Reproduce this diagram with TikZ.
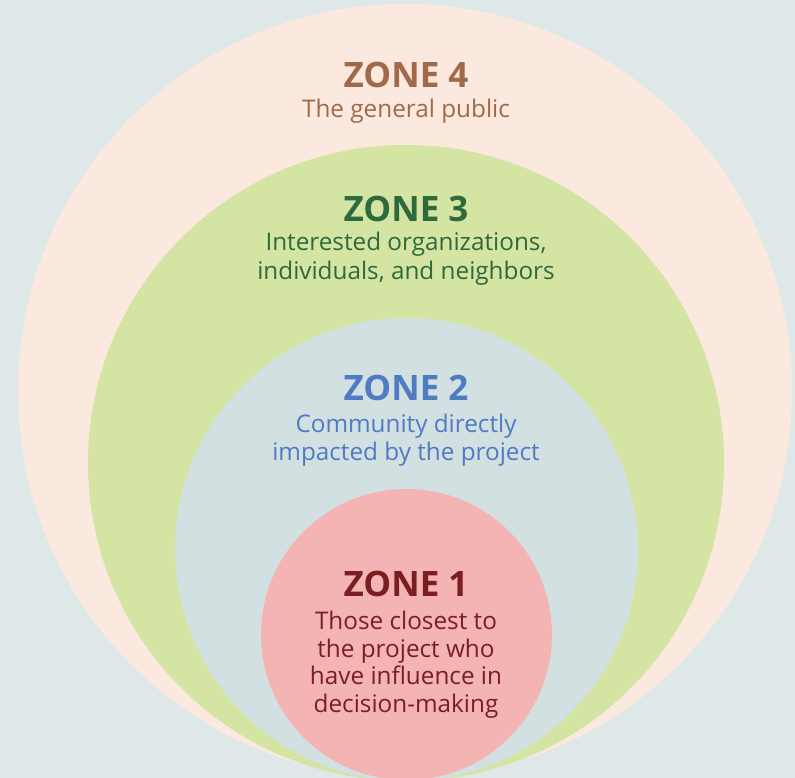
\documentclass[tikz,border=0pt]{standalone}
\usepackage{fontspec}
\setmainfont{Open Sans}
\definecolor{bgc}{HTML}{DFE8E9}
\definecolor{z4fill}{HTML}{FBE8DE}
\definecolor{z3fill}{HTML}{D3E4A3}
\definecolor{z2fill}{HTML}{D2E0E2}
\definecolor{z1fill}{HTML}{F4B4B4}
\definecolor{z4text}{HTML}{A06A48}
\definecolor{z3text}{HTML}{2F6A3C}
\definecolor{z2text}{HTML}{4E7BC1}
\definecolor{z1text}{HTML}{7A1F1F}
\tikzset{
  ztitle/.style={anchor=base, inner sep=0pt, font=\fontsize{35}{35}\selectfont\bfseries},
  zbody/.style={anchor=base, inner sep=0pt, font=\fontsize{24.3}{24.3}\selectfont},
}
\begin{document}
\begin{tikzpicture}[x=1pt,y=-1pt]
\useasboundingbox (0,0) rectangle (795,778);
\fill[bgc] (0,0) rectangle (795,778);
\fill[z4fill] (405,391) circle (387);
\fill[z3fill] (406,463) circle (318);
\fill[z2fill] (406.5,549.5) circle (231.5);
\fill[z1fill] (406.5,634.5) circle (145.5);
\node[ztitle, text=z4text] (t4) at (406,88) {ZONE 4};
\node[zbody, text=z4text] (b4) at (406,118) {The general public};
\node[ztitle, text=z3text] (t3) at (406,222) {ZONE 3};
\node[zbody, text=z3text] (b3a) at (406,251) {Interested organizations,};
\node[zbody, text=z3text] (b3b) at (406,279) {individuals, and neighbors};
\node[ztitle, text=z2text] (t2) at (406,400) {ZONE 2};
\node[zbody, text=z2text] (b2a) at (406,432) {Community directly};
\node[zbody, text=z2text] (b2b) at (406,460) {impacted by the project};
\node[ztitle, text=z1text] (t1) at (406,596) {ZONE 1};
\node[zbody, text=z1text] (b1a) at (406,629) {Those closest to};
\node[zbody, text=z1text] (b1b) at (406,657) {the project who};
\node[zbody, text=z1text] (b1c) at (406,684) {have influence in};
\node[zbody, text=z1text] (b1d) at (406,712) {decision-making};
\end{tikzpicture}
\end{document}
